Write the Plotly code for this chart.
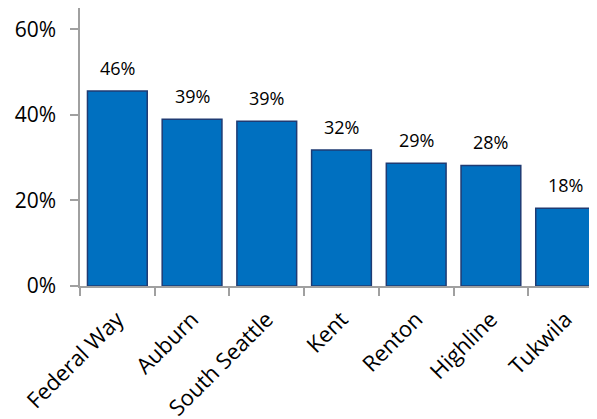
import plotly.graph_objects as go

categories = ["Federal Way", "Auburn", "South Seattle", "Kent", "Renton", "Highline", "Tukwila"]
values = [0.456, 0.390, 0.385, 0.318, 0.287, 0.282, 0.182]
labels = ["46%", "39%", "39%", "32%", "29%", "28%", "18%"]
y_ticks = [0, 0.2, 0.4, 0.6]
y_tick_labels = ["0%", "20%", "40%", "60%"]

font_family = "Open Sans, Lato, sans-serif"

fig = go.Figure()
fig.add_trace(go.Bar(
    x=categories,
    y=values,
    width=0.8,
    marker=dict(color="#0070C0", line=dict(color="#1F3B73", width=1.5)),
    hoverinfo="skip",
))

for c, v, t in zip(categories, values, labels):
    fig.add_annotation(x=c, y=v, text=t, showarrow=False, yanchor="bottom",
                       yshift=9, font=dict(size=18, color="#000000", family=font_family))

# page body has an 8px margin, so the figure is sized/offset to compensate
fig.update_layout(
    width=589, height=411,
    margin=dict(l=72, r=0, t=0, b=133),
    paper_bgcolor="white", plot_bgcolor="white",
    showlegend=False,
    bargap=0.2,
)
fig.update_xaxes(
    range=[-0.5, 6.42],
    automargin=False,
    tickangle=-45,
    tickfont=dict(size=22, color="#000000", family=font_family),
    ticklabelstandoff=10,
    showline=True, linecolor="#A0A0A0", linewidth=1.5,
    ticks="outside", tickson="boundaries", ticklen=8, tickcolor="#A0A0A0", tickwidth=1.5,
    showgrid=False, zeroline=False,
)
fig.update_yaxes(
    range=[0, 0.65],
    automargin=False,
    tickvals=y_ticks, ticktext=y_tick_labels,
    tickfont=dict(size=21, color="#000000", family=font_family),
    ticklabelstandoff=10,
    showline=True, linecolor="#A0A0A0", linewidth=1.5,
    ticks="outside", ticklen=8, tickcolor="#A0A0A0", tickwidth=1.5,
    showgrid=False, zeroline=False,
)

fig.write_html("out.html")
